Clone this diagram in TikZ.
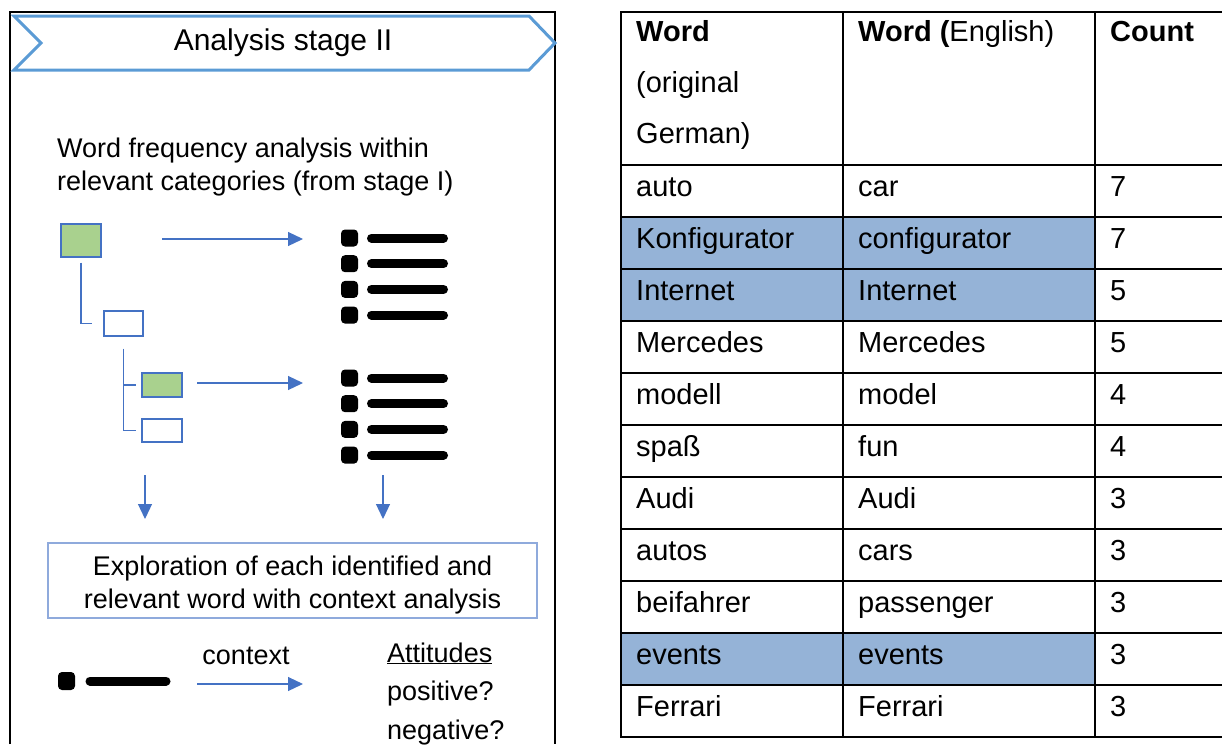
\documentclass[tikz,border=0pt]{standalone}
\usepackage{fontspec}
\setmainfont{Liberation Sans}
\usetikzlibrary{arrows.meta}
\definecolor{chev}{HTML}{5B9BD5}
\definecolor{arr}{HTML}{4472C4}
\definecolor{leaf}{HTML}{A9D18E}
\definecolor{hl}{HTML}{95B3D7}
\definecolor{boxln}{HTML}{8FAADC}
\begin{document}
\begin{tikzpicture}[x=1pt,y=-1pt,
  txt/.style={inner sep=0pt, font=\fontsize{27}{33}\selectfont},
  celltxt/.style={inner sep=0pt, anchor=base west, font=\fontsize{29}{34}\selectfont},
  treebox/.style={draw=arr, line width=1.2pt, inner sep=0pt},
  leafbox/.style={treebox, fill=leaf},
  emptybox/.style={treebox, fill=white},
  treeline/.style={draw=arr, line width=1.2pt},
  flow/.style={draw=arr, line width=1.2pt, -{Triangle[length=15pt,width=14pt]}},
  bullet/.style={fill=black, rounded corners=4pt},
  bar/.style={line width=9pt, line cap=round},
  grid/.style={line width=2pt}]
\useasboundingbox (0,0) rectangle (1222,744);

% ---------- left panel ----------
\draw[line width=2pt] (10,744) -- (10,12) -- (555,12) -- (555,744);
\draw[chev, line width=3pt, line join=miter]
  (14,16) -- (529,16) -- (555,43) -- (529,70) -- (14,70) -- (41,43) -- cycle;
\node[txt, font=\fontsize{30}{34}\selectfont] (title) at (283,43) {Analysis stage II};

\node[txt, anchor=base west, align=left] (intro) at (57,190)
  {Word frequency analysis within\\relevant categories (from stage I)};

% category tree
\node[leafbox,  minimum width=40pt, minimum height=33pt] (g1) at (81,240.5) {};
\node[emptybox, minimum width=39pt, minimum height=25pt] (w1) at (123.5,323.5) {};
\node[leafbox,  minimum width=40pt, minimum height=24pt] (g2) at (162,385) {};
\node[emptybox, minimum width=40pt, minimum height=23pt] (w2) at (162,430.5) {};
\draw[treeline, shorten <=5pt, shorten >=11pt] (g1.south) |- (w1.west);
\draw[treeline, shorten <=12pt, shorten >=5pt] (w1.south) |- (w2.west);
\draw[treeline, shorten >=5pt] (w1.south |- g2.west) -- (g2.west);

% word lists
\foreach \n/\yy in {list1/238, list2/378} {
  \node[inner sep=0pt, minimum width=107pt, minimum height=95pt, anchor=north west]
    (\n) at (341,\yy-9) {};
  \foreach \k in {0,1,2,3} {
    \fill[bullet] (341,\yy-8.5+25.7*\k) rectangle (358,\yy+8.5+25.7*\k);
    \draw[bar] (371.5,\yy+25.7*\k) -- (443.5,\yy+25.7*\k);
  }
}

% arrows from categories to word lists
\coordinate (a1s) at (162,239);
\coordinate (a1e) at (303,239);
\coordinate (a2s) at (197,383);
\coordinate (a2e) at (303,383);
\draw[flow] (a1s) -- (a1e);
\draw[flow] (a2s) -- (a2e);

% exploration box
\node[draw=boxln, line width=1.2pt, minimum width=489pt, minimum height=75pt]
  (explore) at (292.5,580.5) {};
\node[txt, align=center] (exploretxt) at (292.5,585)
  {Exploration of each identified and\\relevant word with context analysis};
\coordinate (d1) at (145,475);
\coordinate (d2) at (383,475);
\draw[flow] (d1) -- (d1 |- 0,519);
\draw[flow] (d2) -- (d2 |- 0,519);

% context step
\fill[bullet] (58,672) rectangle (75,690);
\draw[bar] (90,681) -- (166,681);
\coordinate (cs) at (197,684);
\coordinate (ce) at (303,684);
\draw[flow] (cs) -- (ce);
\node[txt, anchor=base] (ctx) at (246,664) {context};
\node[txt, anchor=base west, align=left] (att) at (387,662)
  {\underline{Attitudes}};
\node[txt, anchor=base west] (pos) at (387,700) {positive?};
\node[txt, anchor=base west] (neg) at (387,739) {negative?};

% ---------- word count table ----------
\foreach \r in {1,2,9} {
  \fill[hl] (621,165+52*\r) rectangle (1095,217+52*\r);
}
\foreach \yy in {12,165,217,269,321,373,425,477,529,581,633,685,737}
  \draw[grid] (620,\yy) -- (1222,\yy);
\foreach \xx in {621,843,1095}
  \draw[grid] (\xx,11) -- (\xx,738);

\node[celltxt] (h1a) at (636,41) {\bfseries Word};
\node[celltxt] (h1b) at (636,92) {(original};
\node[celltxt] (h1c) at (636,143) {German)};
\node[celltxt] (h2) at (858,41) {\bfseries Word (\mdseries English)};
\node[celltxt] (h3) at (1110,41) {\bfseries Count};

\foreach \w/\e/\c [count=\i from 0] in {auto/car/7, Konfigurator/configurator/7,
    Internet/Internet/5, Mercedes/Mercedes/5, modell/model/4, spaß/fun/4,
    Audi/Audi/3, autos/cars/3, beifahrer/passenger/3, events/events/3,
    Ferrari/Ferrari/3} {
  \node[celltxt] (de\i) at (636,196+52*\i) {\w};
  \node[celltxt] (en\i) at (858,196+52*\i) {\e};
  \node[celltxt] (n\i)  at (1110,196+52*\i) {\c};
}
\end{tikzpicture}
\end{document}
